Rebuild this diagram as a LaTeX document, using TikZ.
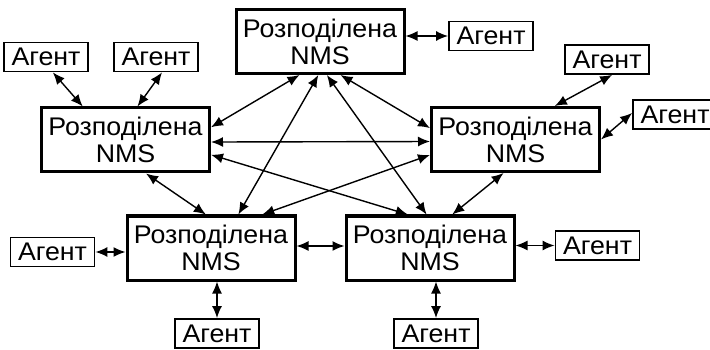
\documentclass[tikz,border=0pt]{standalone}
\usepackage{fontspec}
\setmainfont[FakeStretch=1.05]{Liberation Sans}
\usetikzlibrary{arrows.meta,calc}
\begin{document}
\begin{tikzpicture}[x=1pt,y=-1pt,
  nms/.style={draw,line width=3pt,minimum width=168pt,minimum height=64pt,inner sep=0pt,
    align=center,font=\fontsize{25.5}{27}\selectfont},
  agent/.style={draw,line width=1.8pt,minimum width=84pt,minimum height=29pt,inner sep=0pt,
    font=\fontsize{25.5}{27}\selectfont},
  link/.style={line width=1.4pt,{Latex[length=12pt,width=10pt]}-{Latex[length=12pt,width=10pt]}},
]
\useasboundingbox (0,0) rectangle (710,350);

% distributed NMS nodes
\node[nms] (T)  at (320,41.5)  {Розподілена\\NMS};
\node[nms] (L)  at (125.5,140) {Розподілена\\NMS};
\node[nms] (R)  at (515.5,139.5) {Розподілена\\NMS};
\node[nms] (BL) at (211,248)   {Розподілена\\NMS};
\node[nms] (BR) at (430,248)   {Розподілена\\NMS};

% agents
\node[agent] (TA)  at (491,36)    {Агент};
\node[agent] (A1)  at (46,57)     {Агент};
\node[agent] (A2)  at (156,57)    {Агент};
\node[agent] (R1)  at (607,59.5)  {Агент};
\node[agent] (R2)  at (675,114.5) {Агент};
\node[agent] (BLL) at (52.5,252)  {Агент};
\node[agent] (BLB) at (217,333.5) {Агент};
\node[agent] (BRR) at (597.5,245.5) {Агент};
\node[agent] (BRB) at (436,333.5) {Агент};

% links between NMS nodes
\draw[link] ($(T.south west)!0.38!(T.south east)$) -- ($(L.north east)!0.31!(L.south east)$);
\draw[link] ($(T.south west)!0.49!(T.south east)$) -- ($(BL.north west)!0.66!(BL.north east)$);
\draw[link] ($(T.south west)!0.54!(T.south east)$) -- ($(BR.north west)!0.48!(BR.north east)$);
\draw[link] ($(T.south west)!0.62!(T.south east)$) -- ($(R.north west)!0.33!(R.south west)$);
\draw[link] ($(L.north east)!0.53!(L.south east)$) -- ($(R.north west)!0.53!(R.south west)$);
\draw[link] ($(L.north east)!0.72!(L.south east)$) -- ($(BR.north west)!0.37!(BR.north east)$);
\draw[link] ($(R.north west)!0.73!(R.south west)$) -- ($(BL.north west)!0.80!(BL.north east)$);
\draw[link] ($(L.south west)!0.62!(L.south east)$) -- ($(BL.north west)!0.47!(BL.north east)$);
\draw[link] ($(R.south west)!0.43!(R.south east)$) -- ($(BR.north west)!0.63!(BR.north east)$);
\draw[link] ($(BL.north east)!0.47!(BL.south east)$) -- ($(BR.north west)!0.47!(BR.south west)$);

% links to agents
\draw[link] (T.east |- TA.west) -- (TA.west);
\draw[link] ($(A1.south west)!0.58!(A1.south east)$) -- ($(L.north west)!0.25!(L.north east)$);
\draw[link] ($(A2.south west)!0.57!(A2.south east)$) -- ($(L.north west)!0.57!(L.north east)$);
\draw[link] ($(R1.south west)!0.56!(R1.south east)$) -- ($(R.north west)!0.73!(R.north east)$);
\draw[link] ($(R2.north west)!0.45!(R2.south west)$) -- (R.east);
\draw[link] (BLL.east) -- (BLL.east -| BL.west);
\draw[link] (BLB.north) -- (BLB.north |- BL.south);
\draw[link] (BRR.west) -- (BRR.west -| BR.east);
\draw[link] (BRB.north) -- (BRB.north |- BR.south);
\end{tikzpicture}
\end{document}
